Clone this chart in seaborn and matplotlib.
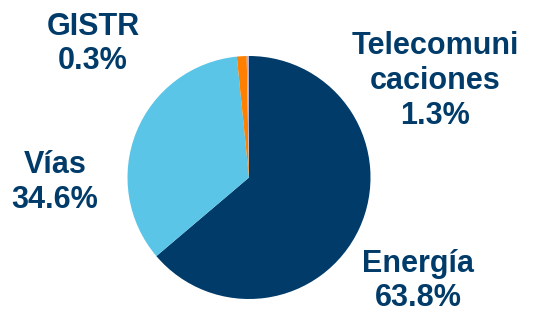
import matplotlib
matplotlib.use("Agg")
import matplotlib.pyplot as plt
import seaborn as sns

categories = ["Energía", "Vías", "Telecomuni\ncaciones", "GISTR"]
values = [63.8, 34.6, 1.3, 0.3]
labels = ["Energía\n63.8%", "Vías\n34.6%", "Telecomuni\ncaciones\n1.3%", "GISTR\n0.3%"]

sns.set_style("white")
plt.rcParams['font.family'] = ['Liberation Sans', 'DejaVu Sans']

colors = ["#003B69", "#5BC5E8", "#FF8000", "#A7B3DA"]
text_color = "#003B69"

fig = plt.figure(figsize=(5.48, 3.14), dpi=100)
ax = fig.add_axes([127.5 / 548, 15 / 314, 243 / 548, 243 / 314])
ax.pie(values, colors=colors, startangle=90, counterclock=False,
       wedgeprops=dict(linewidth=0), radius=1)
ax.set_xlim(-1, 1)
ax.set_ylim(-1, 1)
ax.set_aspect("equal")
ax.axis("off")

# label placement (figure pixel coords from top-left)
label_pos = [(418, 281), (55, 182.5), (435, 81), (93, 44)]
for lab, (px, py) in zip(labels, label_pos):
    fig.text(px / 548, 1 - py / 314, lab, ha="center", va="center",
             fontsize=22, fontweight="bold", color=text_color, linespacing=1.2)

fig.savefig("out.png", dpi=100)
